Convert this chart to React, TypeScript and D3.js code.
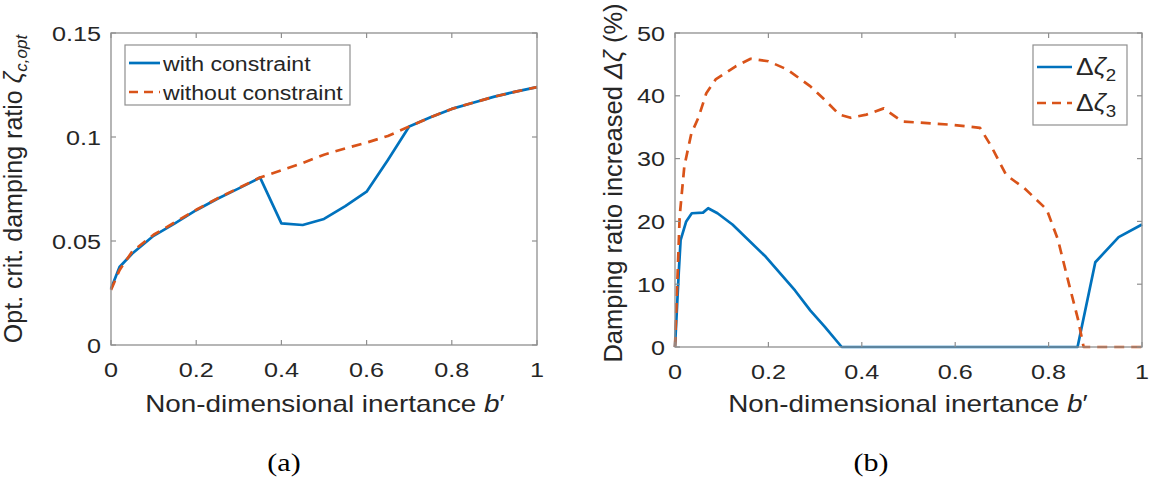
import React from "react";
import * as d3 from "d3";

// ---------- data ----------
const bValuesA = [0, 0.02, 0.05, 0.1, 0.15, 0.2, 0.25, 0.3, 0.35, 0.4, 0.45, 0.5, 0.55, 0.6, 0.65, 0.7, 0.75, 0.8, 0.85, 0.9, 0.95, 1];
const withConstraint = [0.027, 0.0375, 0.044, 0.0525, 0.0585, 0.0648, 0.0703, 0.0753, 0.0805, 0.0585, 0.0577, 0.0606, 0.0668, 0.0737, 0.089, 0.105, 0.1095, 0.1135, 0.1165, 0.1194, 0.1218, 0.124];
const withoutConstraint = [0.0265, 0.036, 0.045, 0.053, 0.059, 0.065, 0.0705, 0.0755, 0.0805, 0.084, 0.0875, 0.0915, 0.0945, 0.0973, 0.1005, 0.105, 0.1095, 0.1135, 0.1165, 0.1194, 0.1218, 0.124];

const bValuesZ2 = [0, 0.008, 0.012, 0.024, 0.036, 0.06, 0.071, 0.091, 0.123, 0.194, 0.257, 0.29, 0.32, 0.357, 0.5, 0.862, 0.9, 0.95, 1];
const deltaZeta2 = [0, 11.8, 17, 20, 21.3, 21.4, 22.1, 21.3, 19.5, 14.4, 9.0, 5.8, 3.3, 0, 0, 0, 13.5, 17.5, 19.5];
const bValuesZ3 = [0, 0.01, 0.02, 0.035, 0.05, 0.067, 0.087, 0.13, 0.162, 0.2, 0.24, 0.29, 0.32, 0.352, 0.376, 0.41, 0.447, 0.487, 0.55, 0.59, 0.653, 0.677, 0.709, 0.748, 0.796, 0.82, 0.843, 0.863, 0.875, 0.9, 0.95, 1];
const deltaZeta3 = [0, 20.8, 28.8, 34, 36.5, 40.4, 42.6, 44.7, 45.9, 45.5, 44.2, 41.5, 39.4, 37, 36.5, 37, 38, 35.9, 35.6, 35.4, 34.9, 32, 27.4, 25.3, 21.9, 17.1, 10.2, 4.4, 0, 0, 0, 0];

const xTicks = [0, 0.2, 0.4, 0.6, 0.8, 1];
const xTickLabels = ["0", "0.2", "0.4", "0.6", "0.8", "1"];
const yTicksA = [0, 0.05, 0.1, 0.15];
const yTickLabelsA = ["0", "0.05", "0.1", "0.15"];
const yTicksB = [0, 10, 20, 30, 40, 50];
const yTickLabelsB = ["0", "10", "20", "30", "40", "50"];

// ---------- style ----------
const BLUE = "#0072BD";
const ORANGE = "#D95319";
const TXT = "#262626";
const FRAME = "#8f8f8f";
const FONT = "'Liberation Sans', Arial, Helvetica, sans-serif";
const SERIF = "'Liberation Serif', 'Times New Roman', serif";

type TProps = { x: number; y: number; size: number; anchor?: string; sx?: number; rotate?: number; children: React.ReactNode; family?: string; fill?: string };
const T = ({ x, y, size, anchor = "start", sx = 1.15, rotate = 0, children, family = FONT, fill = TXT }: TProps) => (
  <g transform={`translate(${x},${y}) rotate(${rotate}) scale(${rotate ? 1 : sx},${rotate ? sx : 1})`}>
    <text x={0} y={0} fontSize={size} fontFamily={family} textAnchor={anchor} fill={fill}>
      {children}
    </text>
  </g>
);

type AxesProps = {
  x0: number; x1: number; y0: number; y1: number;
  yDomain: [number, number]; yTicks: number[]; yTickLabels: string[];
  children: (xs: d3.ScaleLinear<number, number>, ys: d3.ScaleLinear<number, number>) => React.ReactNode;
};

const Axes = ({ x0, x1, y0, y1, yDomain, yTicks, yTickLabels, children }: AxesProps) => {
  const xs = d3.scaleLinear().domain([0, 1]).range([x0, x1]);
  const ys = d3.scaleLinear().domain(yDomain).range([y1, y0]);
  const tl = 5;
  return (
    <g>
      <rect x={x0} y={y0} width={x1 - x0} height={y1 - y0} fill="#fff" />
      {children(xs, ys)}
      <rect x={x0} y={y0} width={x1 - x0} height={y1 - y0} fill="none" stroke={FRAME} strokeWidth={1.3} />
      {xTicks.map((t, i) => (
        <g key={"xt" + i}>
          <line x1={xs(t)} x2={xs(t)} y1={y1} y2={y1 - tl} stroke={FRAME} strokeWidth={1.2} />
          <line x1={xs(t)} x2={xs(t)} y1={y0} y2={y0 + tl} stroke={FRAME} strokeWidth={1.2} />
          <T x={xs(t)} y={y1 + 32} size={21} sx={1.2} anchor="middle">{xTickLabels[i]}</T>
        </g>
      ))}
      {yTicks.map((t, i) => (
        <g key={"yt" + i}>
          <line x1={x0} x2={x0 + tl} y1={ys(t)} y2={ys(t)} stroke={FRAME} strokeWidth={1.2} />
          <line x1={x1} x2={x1 - tl} y1={ys(t)} y2={ys(t)} stroke={FRAME} strokeWidth={1.2} />
          <T x={x0 - 10} y={ys(t) + 7.5} size={21} sx={1.2} anchor="end">{yTickLabels[i]}</T>
        </g>
      ))}
    </g>
  );
};

export default function App() {
  const mkLine = (xs: any, ys: any, xv: number[], vals: number[]) =>
    d3.line<number>().x((_, i) => xs(xv[i])).y((v) => ys(v))(vals) || "";

  return (
    <svg width={1160} height={487} style={{ position: "absolute", left: 0, top: 0, background: "#fff" }}>
      <rect width={1160} height={487} fill="#fff" />
      {/* Panel (a) */}
      <Axes x0={111} x1={537} y0={33} y1={345} yDomain={[0, 0.15]} yTicks={yTicksA} yTickLabels={yTickLabelsA}>
        {(xs, ys) => (
          <g fill="none" strokeWidth={2.7} strokeLinejoin="round">
            <path d={mkLine(xs, ys, bValuesA, withConstraint)} stroke={BLUE} />
            <path d={mkLine(xs, ys, bValuesA, withoutConstraint)} stroke={ORANGE} strokeDasharray="10,7" />
          </g>
        )}
      </Axes>
      {/* legend (a) */}
      <rect x={125} y={45} width={225} height={60} fill="#fff" stroke={FRAME} strokeWidth={1.2} />
      <line x1={129} x2={160} y1={63} y2={63} stroke={BLUE} strokeWidth={2.7} />
      <line x1={129} x2={160} y1={92} y2={92} stroke={ORANGE} strokeWidth={2.7} strokeDasharray="9,6" />
      <T x={163} y={71} size={21} sx={1.1}>with constraint</T>
      <T x={163} y={100} size={21} sx={1.1}>without constraint</T>
      {/* axis labels (a) */}
      <T x={325} y={412} size={24} anchor="middle" sx={1.16}>
        Non-dimensional inertance <tspan fontStyle="italic">b</tspan>′
      </T>
      <T x={22} y={189} size={25} anchor="middle" rotate={-90} sx={1}>
        Opt. crit. damping ratio <tspan fontStyle="italic">ζ</tspan>
        <tspan fontStyle="italic" fontSize={17} dy={5}>c,opt</tspan>
      </T>
      <T x={284} y={471} size={25} anchor="middle" sx={1.2} family={SERIF} fill="#000">(a)</T>

      {/* Panel (b) */}
      <Axes x0={675} x1={1142} y0={33} y1={347} yDomain={[0, 50]} yTicks={yTicksB} yTickLabels={yTickLabelsB}>
        {(xs, ys) => (
          <g fill="none" strokeWidth={2.7} strokeLinejoin="round">
            <path d={mkLine(xs, ys, bValuesZ2, deltaZeta2)} stroke={BLUE} />
            <path d={mkLine(xs, ys, bValuesZ3, deltaZeta3)} stroke={ORANGE} strokeDasharray="10,7" />
          </g>
        )}
      </Axes>
      {/* legend (b) */}
      <rect x={1033} y={45} width={94} height={80} fill="#fff" stroke={FRAME} strokeWidth={1.2} />
      <line x1={1037} x2={1072} y1={67} y2={67} stroke={BLUE} strokeWidth={2.7} />
      <line x1={1037} x2={1072} y1={103} y2={103} stroke={ORANGE} strokeWidth={2.7} strokeDasharray="9,6" />
      <T x={1076} y={75} size={24} sx={1.1}>
        Δ<tspan fontStyle="italic">ζ</tspan><tspan fontSize={17} dy={6}>2</tspan>
      </T>
      <T x={1076} y={111} size={24} sx={1.1}>
        Δ<tspan fontStyle="italic">ζ</tspan><tspan fontSize={17} dy={6}>3</tspan>
      </T>
      {/* axis labels (b) */}
      <T x={908} y={412} size={24} anchor="middle" sx={1.16}>
        Non-dimensional inertance <tspan fontStyle="italic">b</tspan>′
      </T>
      <T x={622} y={183} size={25.5} anchor="middle" rotate={-90} sx={1}>
        Damping ratio increased <tspan fontStyle="italic">Δζ</tspan> (%)
      </T>
      <T x={871} y={471} size={25} anchor="middle" sx={1.2} family={SERIF} fill="#000">(b)</T>
    </svg>
  );
}
